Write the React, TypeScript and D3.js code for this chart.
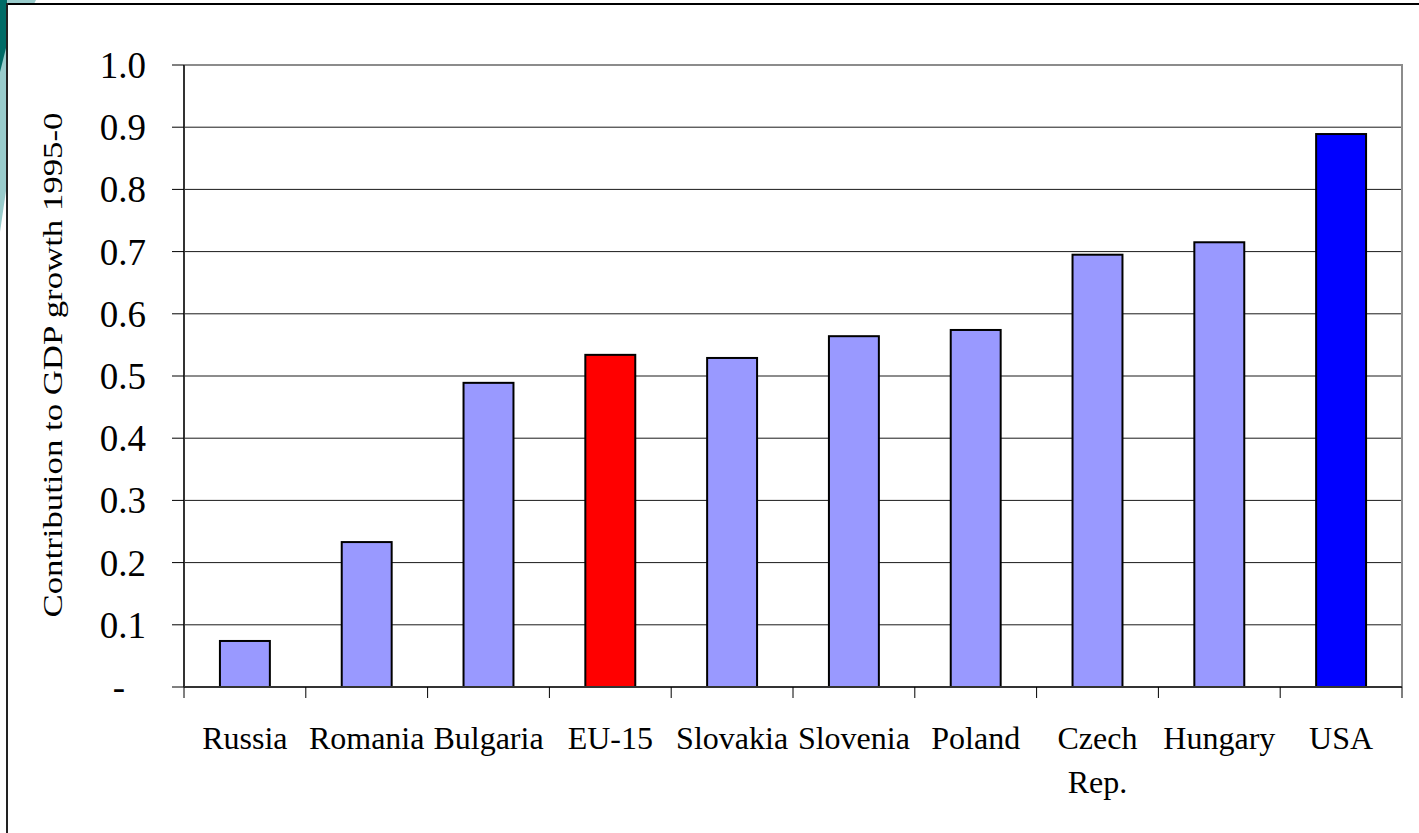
import React from "react";
import * as d3 from "d3";

const categories = ["Russia", "Romania", "Bulgaria", "EU-15", "Slovakia", "Slovenia", "Poland", "Czech Rep.", "Hungary", "USA"];
const values = [0.074, 0.233, 0.489, 0.534, 0.529, 0.564, 0.574, 0.695, 0.715, 0.889];
const yTicks = [0, 0.1, 0.2, 0.3, 0.4, 0.5, 0.6, 0.7, 0.8, 0.9, 1.0];
const yTitle = "Contribution to GDP growth 1995-0";

const W = 1419;
const H = 833;
const plot = { left: 184, right: 1402, top: 65, bottom: 687 };
const FONT = "'Liberation Serif', 'Times New Roman', serif";

function barColor(cat: string) {
  if (cat === "EU-15") return "#FF0000";
  if (cat === "USA") return "#0000FF";
  return "#9999FF";
}

export default function App() {
  const x = d3.scaleBand<string>().domain(categories).range([plot.left, plot.right]).padding(0);
  const y = d3.scaleLinear().domain([0, 1]).range([plot.bottom, plot.top]);
  const bw = x.bandwidth() * 0.41;
  const boundaries = d3.range(categories.length + 1).map((i) => plot.left + i * x.step());

  return (
    <svg width={W} height={H} style={{ position: "fixed", left: 0, top: 0, background: "#fff" }} xmlns="http://www.w3.org/2000/svg">
      <rect x={0} y={0} width={W} height={H} fill="#fff" />
      {/* slide decoration */}
      <polygon points="7,0 36,0 34,4 7,4" fill="#99CCCC" />
      <polygon points="0,40 7,40 7,184 0,232" fill="#99CCCC" />
      <polygon points="0,0 7,0 7,44 0,72" fill="#006B66" />
      <line x1={6} y1={4} x2={W} y2={4} stroke="#000" strokeWidth={2} />
      <line x1={7} y1={3} x2={7} y2={H} stroke="#222" strokeWidth={2} />

      {/* gridlines */}
      {yTicks.filter((t) => t > 0 && t < 1).map((t) => (
        <line key={"g" + t} x1={plot.left} x2={plot.right} y1={y(t)} y2={y(t)} stroke="#1a1a1a" strokeWidth={1} />
      ))}
      {/* plot frame top & right */}
      <line x1={plot.left} x2={plot.right + 1} y1={y(1)} y2={y(1)} stroke="#8c8c8c" strokeWidth={2} />
      <line x1={plot.right} x2={plot.right} y1={y(1)} y2={plot.bottom} stroke="#8c8c8c" strokeWidth={2} />

      {/* bars */}
      {categories.map((c, i) => {
        const cx = (x(c) as number) + x.bandwidth() / 2;
        return (
          <rect
            key={c}
            x={cx - bw / 2}
            y={y(values[i])}
            width={bw}
            height={plot.bottom - y(values[i])}
            fill={barColor(c)}
            stroke="#000"
            strokeWidth={2}
          />
        );
      })}

      {/* axes */}
      <line x1={plot.left} x2={plot.left} y1={y(1)} y2={plot.bottom} stroke="#333" strokeWidth={2} />
      <line x1={plot.left} x2={plot.right} y1={plot.bottom} y2={plot.bottom} stroke="#333" strokeWidth={2} />
      {yTicks.map((t) => (
        <line key={"yt" + t} x1={172} x2={plot.left} y1={y(t)} y2={y(t)} stroke="#000" strokeWidth={1} />
      ))}
      {boundaries.map((bx, i) => (
        <line key={"xt" + i} x1={bx} x2={bx} y1={plot.bottom} y2={plot.bottom + 11} stroke="#000" strokeWidth={1} />
      ))}

      {/* y tick labels */}
      {yTicks.map((t) => (
        <text
          key={"yl" + t}
          x={t === 0 ? 125 : 146}
          y={y(t) + 13}
          textAnchor="end"
          fontFamily={FONT}
          fontSize={37}
          fill="#000"
        >
          {t === 0 ? "-" : d3.format(".1f")(t)}
        </text>
      ))}

      {/* x labels */}
      {categories.map((c) => {
        const cx = (x(c) as number) + x.bandwidth() / 2;
        const parts = c === "Czech Rep." ? ["Czech", "Rep."] : [c];
        return (
          <text key={"xl" + c} textAnchor="middle" fontFamily={FONT} fontSize={32} fill="#000">
            {parts.map((p, j) => (
              <tspan key={j} x={cx} y={749 + j * 44}>
                {p}
              </tspan>
            ))}
          </text>
        );
      })}

      {/* y title */}
      <text
        transform={`translate(62, 365) rotate(-90)`}
        textAnchor="middle"
        fontFamily={FONT}
        fontSize={28}
        textLength={505}
        lengthAdjust="spacingAndGlyphs"
        fill="#000"
      >
        {yTitle}
      </text>
    </svg>
  );
}
